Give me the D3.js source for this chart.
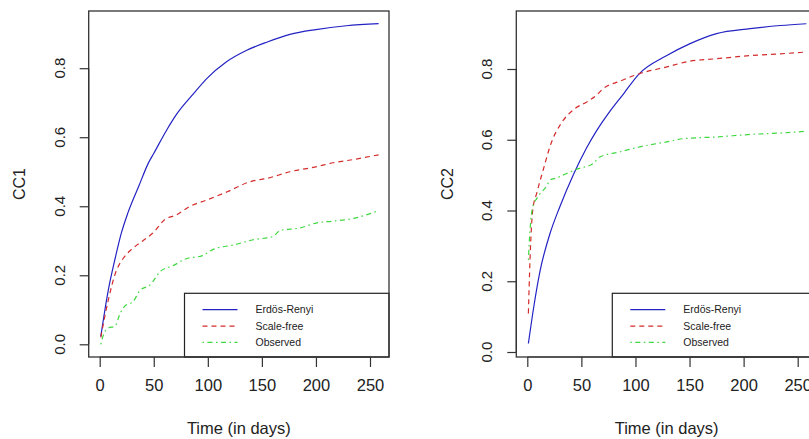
<!DOCTYPE html>
<html><head><meta charset="utf-8">
<script src="https://cdn.jsdelivr.net/npm/d3@7"></script>
<style>
html,body{margin:0;padding:0;background:#fff;}
svg{display:block;font-family:"Liberation Sans",Arial,sans-serif;}
</style></head>
<body><svg id="chart" width="809" height="439"></svg>
<script>
// ---------- data ----------
const xTicks = [0, 50, 100, 150, 200, 250];
const yTicks = [0.0, 0.2, 0.4, 0.6, 0.8];
const seriesNames = ["Erdös-Renyi", "Scale-free", "Observed"];
const xTitle = "Time (in days)";
const yTitles = ["CC1", "CC2"];

// Panel 1 (CC1)
const cc1ErDays = [1, 8, 14, 20, 26, 36, 45, 50, 62, 71, 87, 99, 117, 136, 155, 176, 200, 228, 258];
const cc1ErVals = [0.023, 0.158, 0.245, 0.322, 0.380, 0.457, 0.525, 0.553, 0.621, 0.666, 0.727, 0.770, 0.818, 0.852, 0.876, 0.898, 0.912, 0.923, 0.929];
const cc1SfDays = [1, 8, 15, 22, 31, 40, 50, 60, 71, 83, 99, 118, 139, 155, 176, 201, 216, 232, 258];
const cc1SfVals = [0.020, 0.129, 0.210, 0.250, 0.279, 0.300, 0.325, 0.361, 0.375, 0.399, 0.418, 0.442, 0.471, 0.481, 0.500, 0.515, 0.526, 0.534, 0.549];
const cc1ObDays = [1, 3, 8, 14, 19, 23, 31, 37, 47, 56, 68, 80, 95, 105, 124, 142, 160, 167, 185, 201, 216, 235, 256];
const cc1ObVals = [0.000, 0.023, 0.047, 0.052, 0.090, 0.110, 0.124, 0.155, 0.173, 0.211, 0.228, 0.248, 0.257, 0.275, 0.288, 0.303, 0.312, 0.330, 0.337, 0.352, 0.357, 0.365, 0.385];

// Panel 2 (CC2)
const cc2ErDays = [1, 6, 12, 21, 30, 43, 55, 64, 77, 89, 103, 129, 150, 175, 206, 234, 258];
const cc2ErVals = [0.024, 0.128, 0.232, 0.335, 0.410, 0.504, 0.578, 0.625, 0.683, 0.730, 0.785, 0.838, 0.871, 0.900, 0.914, 0.923, 0.928];
const cc2SfDays = [1, 2.5, 5, 9, 15, 22, 31, 44, 55, 64, 70, 86, 103, 129, 150, 175, 206, 234, 258];
const cc2SfVals = [0.109, 0.260, 0.400, 0.452, 0.518, 0.590, 0.645, 0.688, 0.707, 0.726, 0.744, 0.766, 0.786, 0.806, 0.822, 0.829, 0.838, 0.843, 0.848];
const cc2ObDays = [1, 2.5, 5, 9, 18, 21, 27, 36, 46, 61, 67, 86, 104, 114, 129, 144, 175, 206, 234, 258];
const cc2ObVals = [0.260, 0.345, 0.410, 0.435, 0.470, 0.486, 0.492, 0.504, 0.517, 0.533, 0.551, 0.566, 0.580, 0.586, 0.594, 0.603, 0.608, 0.615, 0.619, 0.624];

// ---------- layout / style ----------
const colors = ["#2323c4", "#d42b2b", "#3fd83f"];
const dashes = [null, "5,4", "1.5,3.5,5,3.5"];
const panels = [
  { title: yTitles[0], box: [88.7, 11, 389, 357], x0: 99.7, x250: 370, y0: 344.3, y08: 68.2, ytx: 65, ytitleX: 25,
    legend: [184.5, 293.3], series: [[cc1ErDays, cc1ErVals], [cc1SfDays, cc1SfVals], [cc1ObDays, cc1ObVals]] },
  { title: yTitles[1], box: [516.3, 11, 817, 357], x0: 527.3, x250: 797.7, y0: 352, y08: 69, ytx: 491.5, ytitleX: 452.5,
    legend: [612.3, 293.3], series: [[cc2ErDays, cc2ErVals], [cc2SfDays, cc2SfVals], [cc2ObDays, cc2ObVals]] }
];
const textCol = "#222";
const svg = d3.select("#chart");

panels.forEach(p => {
  const [bl, bt, br, bb] = p.box;
  const x = d3.scaleLinear().domain([0, 250]).range([p.x0, p.x250]);
  const y = d3.scaleLinear().domain([0, 0.8]).range([p.y0, p.y08]);
  const g = svg.append("g");

  // curves
  const line = d3.line().x(d => x(d[0])).y(d => y(d[1])).curve(d3.curveMonotoneX);
  const clipId = "clip" + Math.round(bl);
  svg.append("clipPath").attr("id", clipId).append("rect")
    .attr("x", bl).attr("y", bt).attr("width", br - bl).attr("height", bb - bt);
  p.series.forEach((s, i) => {
    const pts = s[0].map((d, k) => [d, s[1][k]]);
    g.append("path").attr("d", line(pts)).attr("fill", "none")
      .attr("stroke", colors[i]).attr("stroke-width", 1.2)
      .attr("stroke-dasharray", dashes[i]).attr("clip-path", `url(#${clipId})`);
  });

  // legend
  const [lx, ly] = p.legend;
  g.append("rect").attr("x", lx).attr("y", ly).attr("width", br - lx).attr("height", bb - ly)
    .attr("fill", "#fff").attr("stroke", textCol).attr("stroke-width", 1.2);
  const rowsY = [309.6, 326.2, 342.4];
  seriesNames.forEach((n, i) => {
    g.append("line").attr("x1", lx + 18).attr("x2", lx + 53).attr("y1", rowsY[i]).attr("y2", rowsY[i])
      .attr("stroke", colors[i]).attr("stroke-width", 1.2).attr("stroke-dasharray", dashes[i]);
    g.append("text").attr("x", lx + 71).attr("y", rowsY[i]).attr("dy", "0.35em")
      .attr("font-size", "10.5px").attr("fill", textCol).text(n);
  });

  // box
  g.append("rect").attr("x", bl).attr("y", bt).attr("width", br - bl).attr("height", bb - bt)
    .attr("fill", "none").attr("stroke", "#333").attr("stroke-width", 1.3);

  // x axis
  const xa = d3.axisBottom(x).tickValues(xTicks).tickSize(10).tickPadding(12).tickFormat(d3.format("d"));
  const gx = g.append("g").attr("transform", `translate(0,${bb})`).call(xa);
  gx.select(".domain").attr("stroke", "#333").attr("stroke-width", 1.2).attr("d", `M${x(0)},0H${x(250)}`);
  gx.selectAll(".tick line").attr("stroke", "#333").attr("stroke-width", 1.2);
  gx.selectAll(".tick text").attr("font-size", "16.5px").attr("fill", textCol)
    .attr("font-family", "Liberation Sans, Arial, sans-serif");

  // y axis
  const ya = d3.axisLeft(y).tickValues(yTicks).tickSize(9).tickFormat(d3.format(".1f"));
  const gy = g.append("g").attr("transform", `translate(${bl},0)`).call(ya);
  gy.select(".domain").attr("stroke", "#333").attr("stroke-width", 1.2).attr("d", `M0,${y(0)}V${y(0.8)}`);
  gy.selectAll(".tick line").attr("stroke", "#333").attr("stroke-width", 1.2);
  gy.selectAll(".tick text").remove();
  yTicks.forEach(v => {
    g.append("text").attr("transform", `translate(${p.ytx},${y(v)}) rotate(-90)`)
      .attr("text-anchor", "middle").attr("font-size", "15px").attr("fill", textCol)
      .text(d3.format(".1f")(v));
  });

  // titles
  g.append("text").attr("x", (bl + br) / 2).attr("y", 434).attr("text-anchor", "middle")
    .attr("font-size", "16.5px").attr("fill", textCol).text(xTitle);
  g.append("text").attr("transform", `translate(${p.ytitleX},${(bt + bb) / 2}) rotate(-90)`)
    .attr("text-anchor", "middle").attr("font-size", "16px").attr("fill", textCol).text(p.title);
});
</script></body></html>
